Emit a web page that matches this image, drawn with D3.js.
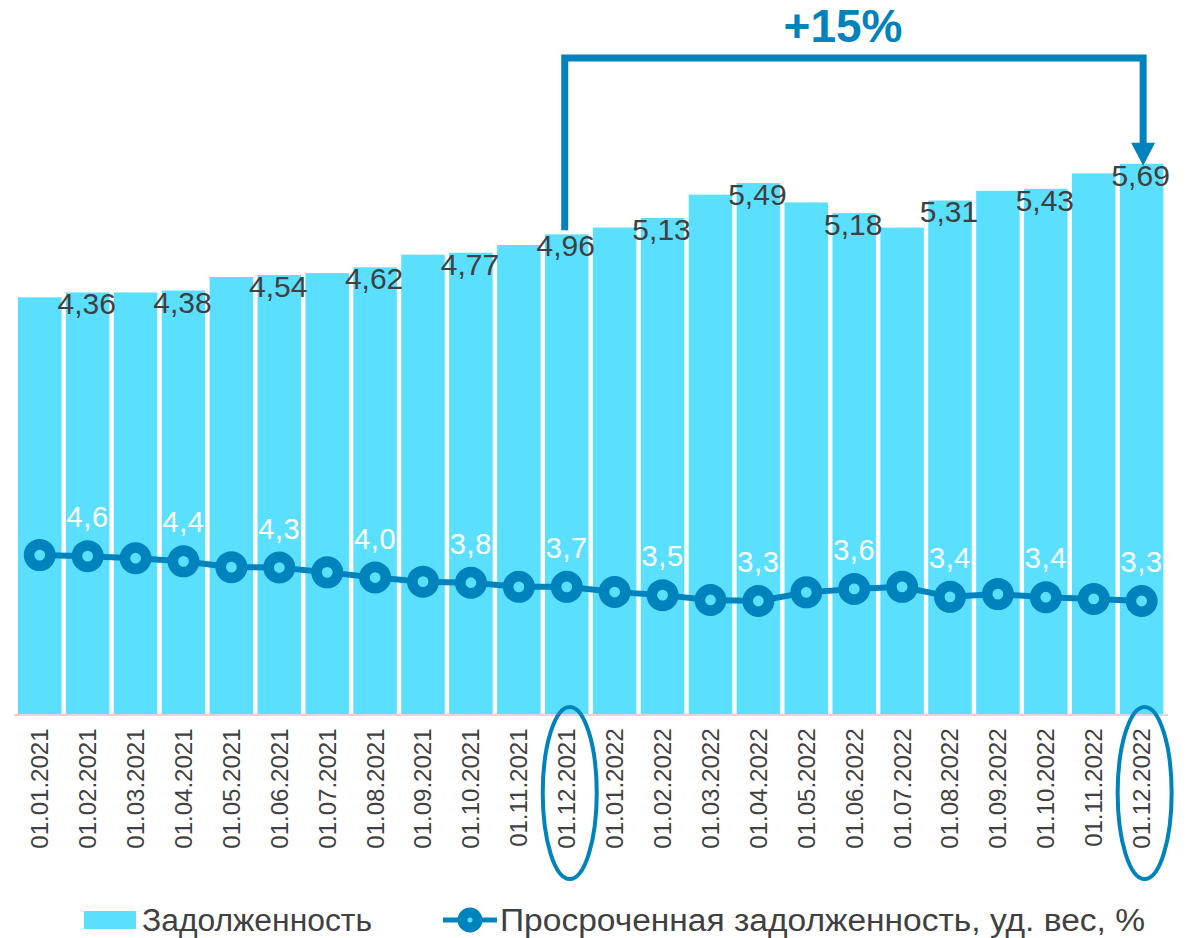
<!DOCTYPE html>
<html><head><meta charset="utf-8">
<script src="https://cdn.jsdelivr.net/npm/d3@7"></script>
<style>body{margin:0;background:#fff}svg{display:block}text{font-family:Arial,"Liberation Sans",sans-serif}</style>
</head><body>
<svg id="chart" width="1191" height="938"></svg>
<script>
const categories = ["01.01.2021","01.02.2021","01.03.2021","01.04.2021","01.05.2021","01.06.2021","01.07.2021","01.08.2021","01.09.2021","01.10.2021","01.11.2021","01.12.2021","01.01.2022","01.02.2022","01.03.2022","01.04.2022","01.05.2022","01.06.2022","01.07.2022","01.08.2022","01.09.2022","01.10.2022","01.11.2022","01.12.2022"];
const debt = [4.31,4.36,4.36,4.38,4.52,4.54,4.56,4.62,4.75,4.77,4.85,4.96,5.03,5.13,5.37,5.49,5.29,5.18,5.03,5.31,5.41,5.43,5.59,5.69];
const overdueShare = [4.62,4.59,4.53,4.44,4.27,4.26,4.12,3.97,3.85,3.82,3.70,3.70,3.55,3.46,3.32,3.29,3.54,3.64,3.70,3.41,3.49,3.40,3.35,3.29];
const seriesNames = ["Задолженность","Просроченная задолженность, уд. вес, %"];
const growthLabel = "+15%";
const highlighted = ["01.12.2021","01.12.2022"];

const barColor = "#5ADFFE", lineColor = "#0083BD", textColor = "#404040";
const svg = d3.select("#chart");
const baseY = 714.5;
const x = d3.scaleBand().domain(categories).range([15.8, 1165.6]).paddingInner(0.092).paddingOuter(0.046);
const y = d3.scaleLinear().domain([0, 7]).range([baseY, baseY - 96.8 * 7]);
const y2 = d3.scaleLinear().domain([0, 7]).range([baseY, baseY - 34.5 * 7]);
const cx = c => x(c) + x.bandwidth() / 2;
const fmt = (v, d) => v.toFixed(d).replace(".", ",");

// bars
svg.append("g").selectAll("rect").data(categories).join("rect")
  .attr("x", c => x(c)).attr("width", x.bandwidth())
  .attr("y", (c, i) => y(debt[i])).attr("height", (c, i) => baseY - y(debt[i]))
  .attr("fill", barColor);

// x axis
const xAxis = svg.append("g").attr("transform", `translate(0,${baseY})`)
  .call(d3.axisBottom(x).tickSize(0).tickPadding(0));
xAxis.select(".domain").attr("stroke", "#D9D9D9").attr("stroke-width", 2).attr("d", "M14,0.5H1168");
xAxis.selectAll(".tick text")
  .attr("transform", "rotate(-90)")
  .attr("x", -14).attr("y", 0).attr("dy", "0.35em")
  .attr("text-anchor", "end")
  .attr("font-size", 24).attr("fill", textColor)
  .style("font-family", 'Arial,"Liberation Sans",sans-serif');

// bar labels (every second)
svg.append("g").selectAll("text").data(categories.filter((c, i) => i % 2 === 1)).join("text")
  .attr("x", c => cx(c) - 1).attr("y", c => y(debt[categories.indexOf(c)]) + 22)
  .attr("text-anchor", "middle").attr("font-size", 30).attr("fill", textColor)
  .text(c => fmt(debt[categories.indexOf(c)], 2));

// line
const line = d3.line().x(c => cx(c)).y((c, i) => y2(overdueShare[i]));
svg.append("path").datum(categories).attr("d", line)
  .attr("fill", "none").attr("stroke", lineColor).attr("stroke-width", 6);
svg.append("g").selectAll("circle").data(categories).join("circle")
  .attr("cx", c => cx(c)).attr("cy", (c, i) => y2(overdueShare[i]))
  .attr("r", 10.7).attr("fill", barColor).attr("stroke", lineColor).attr("stroke-width", 10.6);

// line labels
svg.append("g").selectAll("text").data(categories.filter((c, i) => i % 2 === 1)).join("text")
  .attr("x", c => cx(c)).attr("y", c => y2(overdueShare[categories.indexOf(c)]) - 29)
  .attr("text-anchor", "middle").attr("font-size", 29).attr("fill", "#ffffff")
  .attr("letter-spacing", 0.6)
  .text(c => fmt(overdueShare[categories.indexOf(c)], 1));

// growth bracket
const xa = cx(highlighted[0]) - 2, xb = cx(highlighted[1]) + 1.5;
const topY = 58;
svg.append("path")
  .attr("d", `M${xa},${y(debt[categories.indexOf(highlighted[0])]) - 4}V${topY}H${xb}V${148}`)
  .attr("fill", "none").attr("stroke", lineColor).attr("stroke-width", 7);
const tipY = y(debt[categories.indexOf(highlighted[1])]) + 2;
svg.append("path")
  .attr("d", `M${xb - 12},${tipY - 23}L${xb + 12},${tipY - 23}L${xb},${tipY}Z`)
  .attr("fill", lineColor);
svg.append("text").attr("x", 843).attr("y", 42).attr("text-anchor", "middle")
  .attr("font-size", 46).attr("font-weight", "bold").attr("fill", lineColor).text(growthLabel);

// ellipses around highlighted ticks
svg.append("g").selectAll("ellipse").data(highlighted).join("ellipse")
  .attr("cx", c => cx(c) + 3).attr("cy", 793).attr("rx", 27).attr("ry", 86)
  .attr("fill", "none").attr("stroke", lineColor).attr("stroke-width", 4);

// legend
const lg = svg.append("g");
lg.append("rect").attr("x", 84).attr("y", 911).attr("width", 52).attr("height", 18).attr("fill", barColor);
lg.append("text").attr("x", 142).attr("y", 931).attr("font-size", 31).attr("fill", textColor)
  .attr("textLength", 230).attr("lengthAdjust", "spacingAndGlyphs").text(seriesNames[0]);
lg.append("line").attr("x1", 443).attr("x2", 497).attr("y1", 920).attr("y2", 920).attr("stroke", lineColor).attr("stroke-width", 5);
lg.append("circle").attr("cx", 470).attr("cy", 920).attr("r", 7.5).attr("fill", barColor).attr("stroke", lineColor).attr("stroke-width", 10);
lg.append("text").attr("x", 500).attr("y", 931).attr("font-size", 31).attr("fill", textColor)
  .attr("textLength", 645).attr("lengthAdjust", "spacingAndGlyphs").text(seriesNames[1]);
</script>
</body></html>
